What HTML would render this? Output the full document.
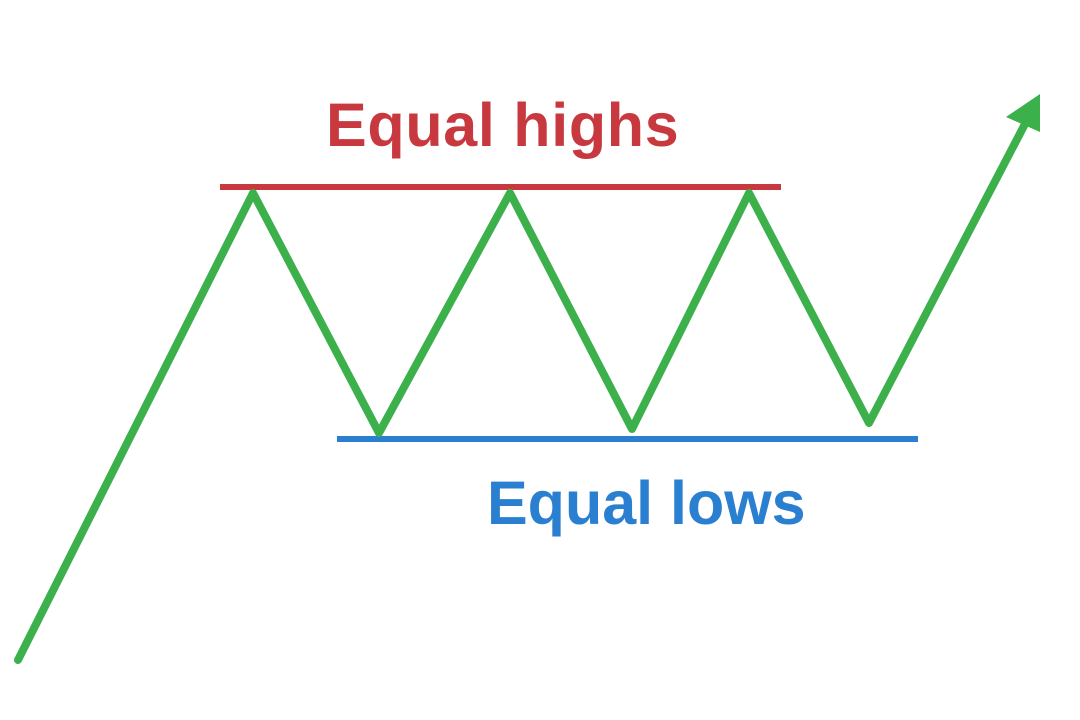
<!DOCTYPE html>
<html><head><style>
html,body{margin:0;padding:0;background:#fff;width:1080px;height:720px;overflow:hidden}
</style></head><body>
<svg width="1080" height="720" viewBox="0 0 1080 720" xmlns="http://www.w3.org/2000/svg">
<line x1="220" y1="187" x2="781" y2="187" stroke="#c8393f" stroke-width="6"/>
<line x1="337" y1="439" x2="918" y2="439" stroke="#2b7fd0" stroke-width="6"/>
<polyline points="18,660 253,193 379,433 510,193 632,429 749,193 869,423 1026,122" fill="none" stroke="#3cb04b" stroke-width="8" stroke-linejoin="round" stroke-linecap="round"/>
<polygon points="1040,94 1006,117 1040,132" fill="#3cb04b"/>
<text x="326" y="146" font-family="Liberation Sans, sans-serif" font-weight="bold" font-size="61" letter-spacing="0.7" fill="#c8393f">Equal highs</text>
<text x="487" y="524" font-family="Liberation Sans, sans-serif" font-weight="bold" font-size="61" fill="#2b7fd0">Equal lows</text>
</svg>
</body></html>
